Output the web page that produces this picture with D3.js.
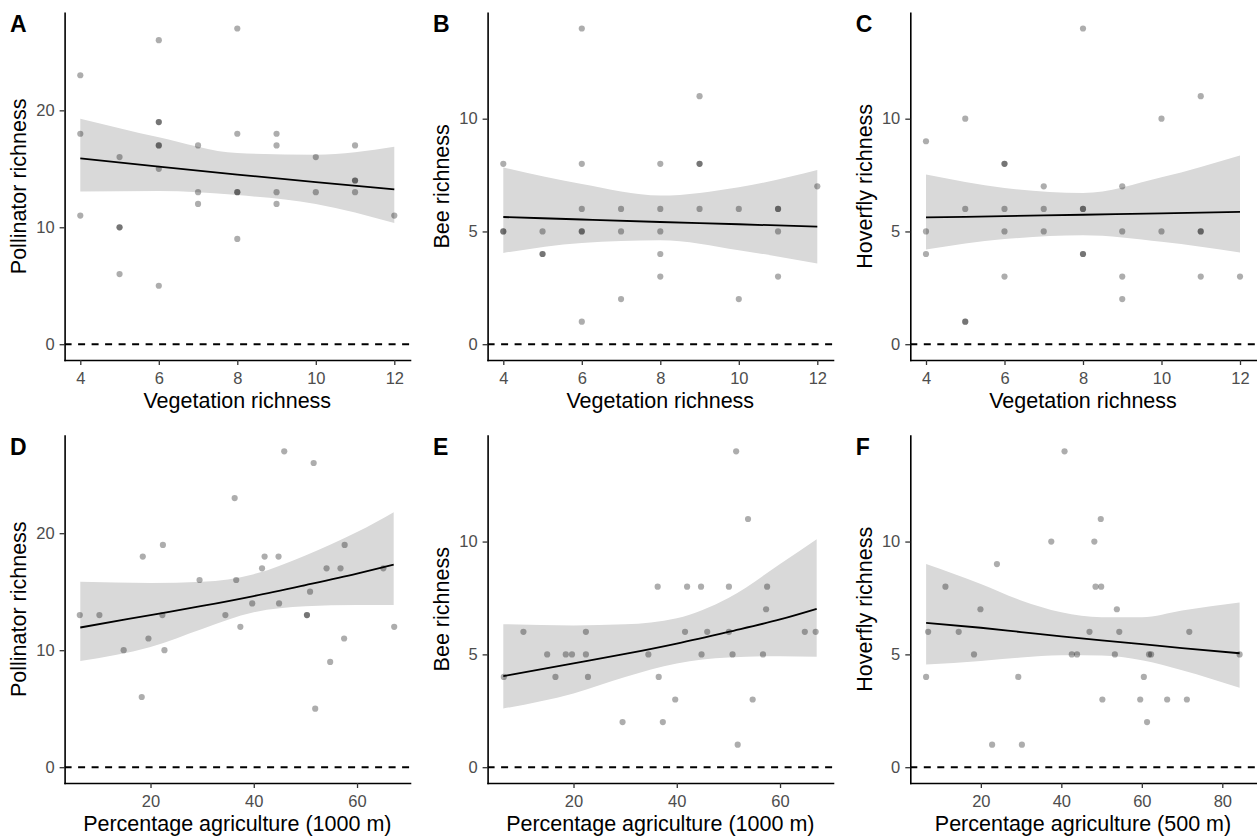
<!DOCTYPE html>
<html>
<head>
<meta charset="utf-8">
<script src="https://cdn.jsdelivr.net/npm/d3@7"></script>
<style>
  body { margin: 0; background: #fff; }
  text { font-family: "Liberation Sans", Arial, sans-serif; }
  .tick text { fill: #4d4d4d; font-size: 16.5px; }
  .tick line { stroke: #333; stroke-width: 1.3; }
  .domain { stroke: #000; stroke-width: 1.6; stroke-linecap: square; }
</style>
</head>
<body>
<svg width="1260" height="839"></svg>
<script>
// ---- data ----
const panelLetters = ['A', 'B', 'C', 'D', 'E', 'F'];
const yTitles = ['Pollinator richness', 'Bee richness', 'Hoverfly richness',
  'Pollinator richness', 'Bee richness', 'Hoverfly richness'];
const xTitles = ['Vegetation richness', 'Vegetation richness', 'Vegetation richness',
  'Percentage agriculture (1000 m)', 'Percentage agriculture (1000 m)', 'Percentage agriculture (500 m)'];

const vegTicks = [4, 6, 8, 10, 12];
const agri1000Ticks = [20, 40, 60];
const agri500Ticks = [20, 40, 60, 80];
const pollTicks = [0, 10, 20];
const smallTicks = [0, 5, 10];

const vegDomain = [3.6, 12.4];
const agri1000Domain = [3.36, 70.26];
const agri500Domain = [2.47, 88.3];
const pollDomain = [-1.35, 28.35];
const smallDomain = [-0.7, 14.7];

// points [x, y]
const pointsA = [[4,23],[4,18],[4,11],[5,16],[5,10],[5,10],[5,6],
  [6,26],[6,19],[6,19],[6,17],[6,17],[6,15],[6,5],[7,17],[7,13],[7,12],
  [8,27],[8,18],[8,13],[8,13],[8,9],[9,18],[9,17],[9,13],[9,12],
  [10,16],[10,13],[11,17],[11,14],[11,14],[11,13],[12,11]];
const pointsB = [[4,8],[4,5],[4,5],[5,5],[5,4],[5,4],
  [6,14],[6,8],[6,6],[6,5],[6,5],[6,1],[7,6],[7,5],[7,2],
  [8,8],[8,6],[8,5],[8,4],[8,3],[9,11],[9,8],[9,8],[9,6],
  [10,6],[10,2],[11,6],[11,6],[11,5],[11,3],[12,7]];
const pointsC = [[4,9],[4,5],[4,4],[5,10],[5,6],[5,1],[5,1],
  [6,8],[6,8],[6,6],[6,5],[6,3],[7,7],[7,6],[7,5],
  [8,14],[8,6],[8,6],[8,4],[8,4],[9,7],[9,5],[9,3],[9,2],
  [10,10],[10,5],[11,11],[11,5],[11,5],[11,3],[12,3]];
const pointsD = [[6.3,13],[10.1,13],[14.8,10],[18.3,6],[18.5,18],[19.6,11],
  [22.3,13],[22.4,19],[22.7,10],[29.5,16],[34.5,13],[36.6,16],[36.3,23],
  [37.4,12],[39.7,14],[41.6,17],[42.1,18],[44.8,18],[44.9,14],[45.9,27],
  [50.3,13],[50.3,13],[50.9,15],[51.6,26],[51.9,5],[54.1,17],[54.8,9],
  [56.8,17],[57.5,11],[57.6,19],[65.1,17],[67.2,12]];
const pointsE = [[6.5,4],[10.3,6],[14.9,5],[16.5,4],[18.5,5],[19.7,5],
  [22.4,6],[22.4,5],[22.8,4],[29.5,2],[34.5,5],[36.3,8],[36.5,4],[37.3,2],
  [39.7,3],[41.6,6],[42.0,8],[44.7,8],[44.8,5],[45.9,6],[50.1,8],[50.1,6],
  [50.8,5],[51.5,14],[51.8,1],[53.8,11],[54.7,3],[56.7,5],[57.3,7],[57.5,8],
  [64.8,6],[66.9,6]];
const pointsF = [[6.4,4],[6.9,6],[11.2,8],[14.5,6],[18.3,5],[19.9,7],
  [22.8,1],[24.0,9],[29.3,4],[30.2,1],[37.5,10],[40.8,14],[42.6,5],[43.9,5],
  [47.0,6],[48.2,10],[48.5,8],[49.9,8],[49.8,11],[50.2,3],[53.3,5],[53.8,7],
  [54.4,6],[59.6,3],[60.5,4],[61.3,2],[61.8,5],[62.3,5],[66.3,3],[71.2,3],
  [71.8,6],[84.3,5]];

// fitted line and confidence band, sampled along x
const bandXVeg = [4, 6, 8, 10, 12];
const fitA = [15.89, 15.18, 14.51, 13.87, 13.25];
const upperA = [19.29, 17.7, 16.35, 16.2, 16.88];
const lowerA = [13.06, 13.1, 12.75, 12.0, 10.37];
const fitB = [5.64, 5.53, 5.42, 5.32, 5.21];
const upperB = [7.84, 7.1, 6.59, 6.96, 7.72];
const lowerB = [4.05, 4.49, 4.61, 4.17, 3.58];
const fitC = [5.62, 5.68, 5.74, 5.80, 5.87];
const upperC = [7.52, 6.93, 6.7, 7.4, 8.37];
const lowerC = [4.2, 4.66, 4.83, 4.54, 4.07];

const bandXAgri1000 = [6.4, 20, 30, 40, 50, 60, 67.1];
const fitD = [11.94, 13.0, 13.78, 14.63, 15.57, 16.55, 17.31];
const upperD = [15.85, 15.75, 15.85, 16.5, 18.1, 20.1, 21.8];
const lowerD = [9.08, 10.27, 11.82, 13.24, 13.75, 13.86, 13.86];
const fitE = [4.04, 4.6, 5.02, 5.48, 6.0, 6.55, 7.02];
const upperE = [6.34, 6.28, 6.33, 6.6, 7.5, 9.0, 10.1];
const lowerE = [2.6, 3.27, 4.0, 4.6, 4.86, 4.92, 4.89];

const bandXAgri500 = [6.4, 20, 30, 40, 50, 60, 70, 84.3];
const fitF = [6.4, 6.18, 5.99, 5.8, 5.62, 5.45, 5.28, 5.05];
const upperF = [9.0, 8.12, 7.39, 6.87, 6.65, 6.65, 6.95, 7.3];
const lowerF = [4.55, 4.71, 4.86, 4.96, 4.95, 4.74, 4.3, 3.52];

// ---- layout ----
const colLeft = [64.6, 487.6, 910.3];
const panelWidth = 345.4;
const rowTop = [12.7, 435.5];
const rowBottom = [360, 783];

const makeBand = (xs, fit, lower, upper) =>
  xs.map((x, i) => ({ x, fit: fit[i], lower: lower[i], upper: upper[i] }));

const panels = [
  { points: pointsA, band: makeBand(bandXVeg, fitA, lowerA, upperA), xDomain: vegDomain, yDomain: pollDomain, xTicks: vegTicks, yTicks: pollTicks },
  { points: pointsB, band: makeBand(bandXVeg, fitB, lowerB, upperB), xDomain: vegDomain, yDomain: smallDomain, xTicks: vegTicks, yTicks: smallTicks },
  { points: pointsC, band: makeBand(bandXVeg, fitC, lowerC, upperC), xDomain: vegDomain, yDomain: smallDomain, xTicks: vegTicks, yTicks: smallTicks },
  { points: pointsD, band: makeBand(bandXAgri1000, fitD, lowerD, upperD), xDomain: agri1000Domain, yDomain: pollDomain, xTicks: agri1000Ticks, yTicks: pollTicks },
  { points: pointsE, band: makeBand(bandXAgri1000, fitE, lowerE, upperE), xDomain: agri1000Domain, yDomain: smallDomain, xTicks: agri1000Ticks, yTicks: smallTicks },
  { points: pointsF, band: makeBand(bandXAgri500, fitF, lowerF, upperF), xDomain: agri500Domain, yDomain: smallDomain, xTicks: agri500Ticks, yTicks: smallTicks },
];

const svg = d3.select('svg');
svg.append('rect').attr('width', 1260).attr('height', 839).attr('fill', '#fff');

const renderPanel = (panel, i) => {
  const col = i % 3;
  const row = Math.floor(i / 3);
  const left = colLeft[col];
  const right = left + panelWidth;
  const top = rowTop[row];
  const bottom = rowBottom[row];

  const xScale = d3.scaleLinear().domain(panel.xDomain).range([left, right]);
  const yScale = d3.scaleLinear().domain(panel.yDomain).range([bottom, top]);

  const g = svg.append('g').attr('class', 'panel');

  // zero reference line
  g.append('line')
    .attr('x1', left).attr('x2', right)
    .attr('y1', yScale(0)).attr('y2', yScale(0))
    .attr('stroke', '#000')
    .attr('stroke-width', 1.9)
    .attr('stroke-dasharray', '7,6.5');

  // confidence band
  const area = d3.area()
    .x(d => xScale(d.x))
    .y0(d => yScale(d.lower))
    .y1(d => yScale(d.upper))
    .curve(d3.curveMonotoneX);
  g.append('path')
    .datum(panel.band)
    .attr('d', area)
    .attr('fill', '#d9d9d9');

  // fitted line
  const line = d3.line()
    .x(d => xScale(d.x))
    .y(d => yScale(d.fit))
    .curve(d3.curveMonotoneX);
  g.append('path')
    .datum(panel.band)
    .attr('d', line)
    .attr('fill', 'none')
    .attr('stroke', '#000')
    .attr('stroke-width', 1.8);

  // points
  g.selectAll('circle.pt')
    .data(panel.points)
    .enter()
    .append('circle')
      .attr('class', 'pt')
      .attr('cx', d => xScale(d[0]))
      .attr('cy', d => yScale(d[1]))
      .attr('r', 3.1)
      .attr('fill', '#000')
      .attr('fill-opacity', 0.32);

  // axes
  const yAxisGroup = g.append('g')
    .attr('transform', `translate(${left}, 0)`)
    .call(d3.axisLeft(yScale).tickValues(panel.yTicks).tickSize(5).tickSizeOuter(0).tickPadding(5));
  const xAxisGroup = g.append('g')
    .attr('transform', `translate(0, ${bottom})`)
    .call(d3.axisBottom(xScale).tickValues(panel.xTicks).tickSize(5).tickSizeOuter(0).tickPadding(7.5));
  yAxisGroup.attr('font-family', null).attr('font-size', null);
  xAxisGroup.attr('font-family', null).attr('font-size', null);

  // titles
  g.append('text')
    .attr('transform', `translate(${left - 46}, ${(top + bottom) / 2}) rotate(-90)`)
    .attr('text-anchor', 'middle')
    .attr('dy', '0.35em')
    .attr('font-size', 21.5)
    .attr('fill', '#000')
    .text(yTitles[i]);
  g.append('text')
    .attr('x', (left + right) / 2)
    .attr('y', bottom + 48)
    .attr('text-anchor', 'middle')
    .attr('font-size', 21.5)
    .attr('fill', '#000')
    .text(xTitles[i]);
  g.append('text')
    .attr('x', left - 54.5)
    .attr('y', top + 19)
    .attr('font-size', 23)
    .attr('font-weight', 'bold')
    .attr('fill', '#000')
    .text(panelLetters[i]);
};

panels.forEach(renderPanel);
</script>
</body>
</html>
